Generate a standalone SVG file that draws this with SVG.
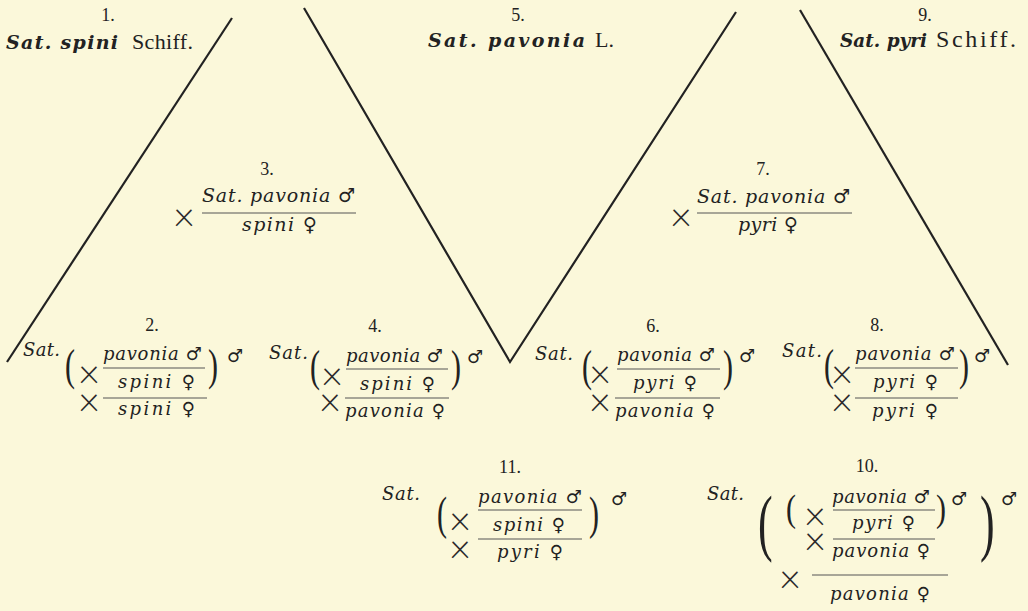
<svg xmlns="http://www.w3.org/2000/svg" width="1028" height="611" viewBox="0 0 1028 611">
<style>
text{font-family:"DejaVu Serif","Liberation Serif",serif;fill:#222}
.n{font-family:"Liberation Serif",serif;font-size:18px;text-anchor:middle}
.it{font-style:italic;font-size:18px}
.mt{font-style:italic;font-size:19px}
.bi{font-style:italic;font-weight:bold;font-size:19px}
.rg{font-family:"Liberation Serif",serif;font-size:22px}
.s{font-family:"DejaVu Sans",sans-serif;font-style:normal;font-weight:normal}
.x{font-family:"Roboto","DejaVu Sans",sans-serif;font-weight:200;font-size:40px;text-anchor:middle;dominant-baseline:central;fill:#2a2a2a}
.p{font-family:"Liberation Serif",serif;font-size:30px}
.P{font-family:"Liberation Serif",serif;font-size:44px}
.fl{stroke:#555;stroke-width:1}
.ln{stroke:#222;stroke-width:2.2;fill:none}
</style>
<rect width="1028" height="611" fill="#fbf8da"/>
<g id="lines">
<path class="ln" d="M232,18 L7,362"/>
<path class="ln" d="M304,8 L510,362 L736,12"/>
<path class="ln" d="M800,10 L1008,365"/>
</g>
<g id="n1">
<text class="n" x="108" y="21">1.</text>
<text class="bi" x="6" y="49" textLength="112" lengthAdjust="spacing">Sat. spini</text>
<text class="rg" x="132" y="49" textLength="61" lengthAdjust="spacing">Schiff.</text>
</g>
<g id="n5">
<text class="n" x="518" y="21">5.</text>
<text class="bi" x="428" y="47" textLength="157" lengthAdjust="spacing">Sat. pavonia</text>
<text class="rg" x="595" y="47">L.</text>
</g>
<g id="n9">
<text class="n" x="925" y="21">9.</text>
<text class="bi" x="840" y="47" textLength="87" lengthAdjust="spacingAndGlyphs">Sat. pyri</text>
<text class="rg" x="936" y="47" style="font-size:24px" textLength="80" lengthAdjust="spacing">Schiff.</text>
</g>
<g id="n3">
<text class="n" x="267" y="175">3.</text>
<text class="x" x="184" y="213">×</text>
<text class="mt" x="202" y="202" textLength="153" lengthAdjust="spacing">Sat. pavonia <tspan class="s">♂</tspan></text>
<line class="fl" x1="202" y1="213" x2="356" y2="213"/>
<text class="mt" x="242" y="231" textLength="75" lengthAdjust="spacing">spini <tspan class="s">♀</tspan></text>
</g>
<g id="n7">
<text class="n" x="763" y="175">7.</text>
<text class="x" x="681" y="213">×</text>
<text class="mt" x="697" y="203" textLength="153" lengthAdjust="spacing">Sat. pavonia <tspan class="s">♂</tspan></text>
<line class="fl" x1="697" y1="213" x2="852" y2="213"/>
<text class="mt" x="738" y="231" textLength="60" lengthAdjust="spacing">pyri <tspan class="s">♀</tspan></text>
</g>
<g id="n2">
<text class="n" x="152" y="331">2.</text>
<text class="it" x="23" y="356" textLength="37" lengthAdjust="spacing">Sat.</text>
<text class="p" transform="translate(65,380) scale(1,1.45)">(</text>
<text class="x" x="89" y="370">×</text>
<text class="x" x="89" y="398">×</text>
<text class="it" x="103" y="360" textLength="99" lengthAdjust="spacing">pavonia <tspan class="s">♂</tspan></text>
<line class="fl" x1="103" y1="368" x2="205" y2="368"/>
<text class="it" x="118" y="388" textLength="77" lengthAdjust="spacing">spini <tspan class="s">♀</tspan></text>
<line class="fl" x1="103" y1="398" x2="207" y2="398"/>
<text class="it" x="118" y="415" textLength="77" lengthAdjust="spacing">spini <tspan class="s">♀</tspan></text>
<text class="p" transform="translate(208,380) scale(1,1.45)">)</text>
<text class="it" x="227" y="362"><tspan class="s">♂</tspan></text>
</g>
<g id="n4">
<text class="n" x="375" y="332">4.</text>
<text class="it" x="269" y="359" textLength="39" lengthAdjust="spacing">Sat.</text>
<text class="p" transform="translate(310,381) scale(1,1.45)">(</text>
<text class="x" x="332" y="372">×</text>
<text class="x" x="330" y="398">×</text>
<text class="it" x="346" y="362" textLength="97" lengthAdjust="spacing">pavonia <tspan class="s">♂</tspan></text>
<line class="fl" x1="346" y1="369" x2="448" y2="369"/>
<text class="it" x="360" y="390" textLength="75" lengthAdjust="spacing">spini <tspan class="s">♀</tspan></text>
<line class="fl" x1="345" y1="398" x2="449" y2="398"/>
<text class="it" x="345" y="417" textLength="100" lengthAdjust="spacing">pavonia <tspan class="s">♀</tspan></text>
<text class="p" transform="translate(451,381) scale(1,1.45)">)</text>
<text class="it" x="467" y="363"><tspan class="s">♂</tspan></text>
</g>
<g id="n6">
<text class="n" x="653" y="332">6.</text>
<text class="it" x="535" y="360" textLength="38" lengthAdjust="spacing">Sat.</text>
<text class="p" transform="translate(582,381) scale(1,1.45)">(</text>
<text class="x" x="600" y="370">×</text>
<text class="x" x="600" y="398">×</text>
<text class="it" x="617" y="361" textLength="98" lengthAdjust="spacing">pavonia <tspan class="s">♂</tspan></text>
<line class="fl" x1="617" y1="369" x2="720" y2="369"/>
<text class="it" x="633" y="389" textLength="64" lengthAdjust="spacing">pyri <tspan class="s">♀</tspan></text>
<line class="fl" x1="615" y1="398" x2="720" y2="398"/>
<text class="it" x="615" y="417" textLength="100" lengthAdjust="spacing">pavonia <tspan class="s">♀</tspan></text>
<text class="p" transform="translate(723,381) scale(1,1.45)">)</text>
<text class="it" x="739" y="362"><tspan class="s">♂</tspan></text>
</g>
<g id="n8">
<text class="n" x="877" y="331">8.</text>
<text class="it" x="782" y="357" textLength="40" lengthAdjust="spacing">Sat.</text>
<text class="p" transform="translate(824,380) scale(1,1.45)">(</text>
<text class="x" x="842" y="370">×</text>
<text class="x" x="842" y="398">×</text>
<text class="it" x="855" y="360" textLength="100" lengthAdjust="spacing">pavonia <tspan class="s">♂</tspan></text>
<line class="fl" x1="855" y1="368" x2="958" y2="368"/>
<text class="it" x="873" y="388" textLength="65" lengthAdjust="spacing">pyri <tspan class="s">♀</tspan></text>
<line class="fl" x1="855" y1="398" x2="958" y2="398"/>
<text class="it" x="872" y="417" textLength="66" lengthAdjust="spacing">pyri <tspan class="s">♀</tspan></text>
<text class="p" transform="translate(959,380) scale(1,1.45)">)</text>
<text class="it" x="974" y="362"><tspan class="s">♂</tspan></text>
</g>
<g id="n11">
<text class="n" x="510" y="473">11.</text>
<text class="it" x="382" y="500" textLength="38" lengthAdjust="spacing">Sat.</text>
<text class="p" transform="translate(437,529) scale(1,1.53)">(</text>
<text class="x" x="460" y="517">×</text>
<text class="x" x="460" y="545">×</text>
<text class="it" x="478" y="503" textLength="104" lengthAdjust="spacing">pavonia <tspan class="s">♂</tspan></text>
<line class="fl" x1="478" y1="510" x2="582" y2="510"/>
<text class="it" x="493" y="531" textLength="72" lengthAdjust="spacing">spini <tspan class="s">♀</tspan></text>
<line class="fl" x1="478" y1="539" x2="582" y2="539"/>
<text class="it" x="497" y="558" textLength="66" lengthAdjust="spacing">pyri <tspan class="s">♀</tspan></text>
<text class="p" transform="translate(589,529) scale(1,1.53)">)</text>
<text class="it" x="611" y="505"><tspan class="s">♂</tspan></text>
</g>
<g id="n10">
<text class="n" x="867" y="472">10.</text>
<text class="it" x="707" y="500" textLength="37" lengthAdjust="spacing">Sat.</text>
<text class="P" transform="translate(758,547) scale(1,1.7)">(</text>
<text class="p" transform="translate(786,521) scale(1,1.26)">(</text>
<text class="x" x="815" y="512">×</text>
<text class="x" x="815" y="537">×</text>
<text class="it" x="832" y="503" textLength="98" lengthAdjust="spacing">pavonia <tspan class="s">♂</tspan></text>
<line class="fl" x1="833" y1="510" x2="935" y2="510"/>
<text class="it" x="852" y="529" textLength="63" lengthAdjust="spacing">pyri <tspan class="s">♀</tspan></text>
<line class="fl" x1="833" y1="539" x2="935" y2="539"/>
<text class="it" x="832" y="557" textLength="98" lengthAdjust="spacing">pavonia <tspan class="s">♀</tspan></text>
<text class="p" transform="translate(936,521) scale(1,1.26)">)</text>
<text class="it" x="951" y="505"><tspan class="s">♂</tspan></text>
<text class="P" transform="translate(980,547) scale(1,1.7)">)</text>
<text class="it" x="1001" y="505"><tspan class="s">♂</tspan></text>
<text class="x" x="790" y="575">×</text>
<line class="fl" x1="812" y1="575" x2="948" y2="575"/>
<text class="it" x="830" y="600" textLength="100" lengthAdjust="spacing">pavonia <tspan class="s">♀</tspan></text>
</g>
</svg>
